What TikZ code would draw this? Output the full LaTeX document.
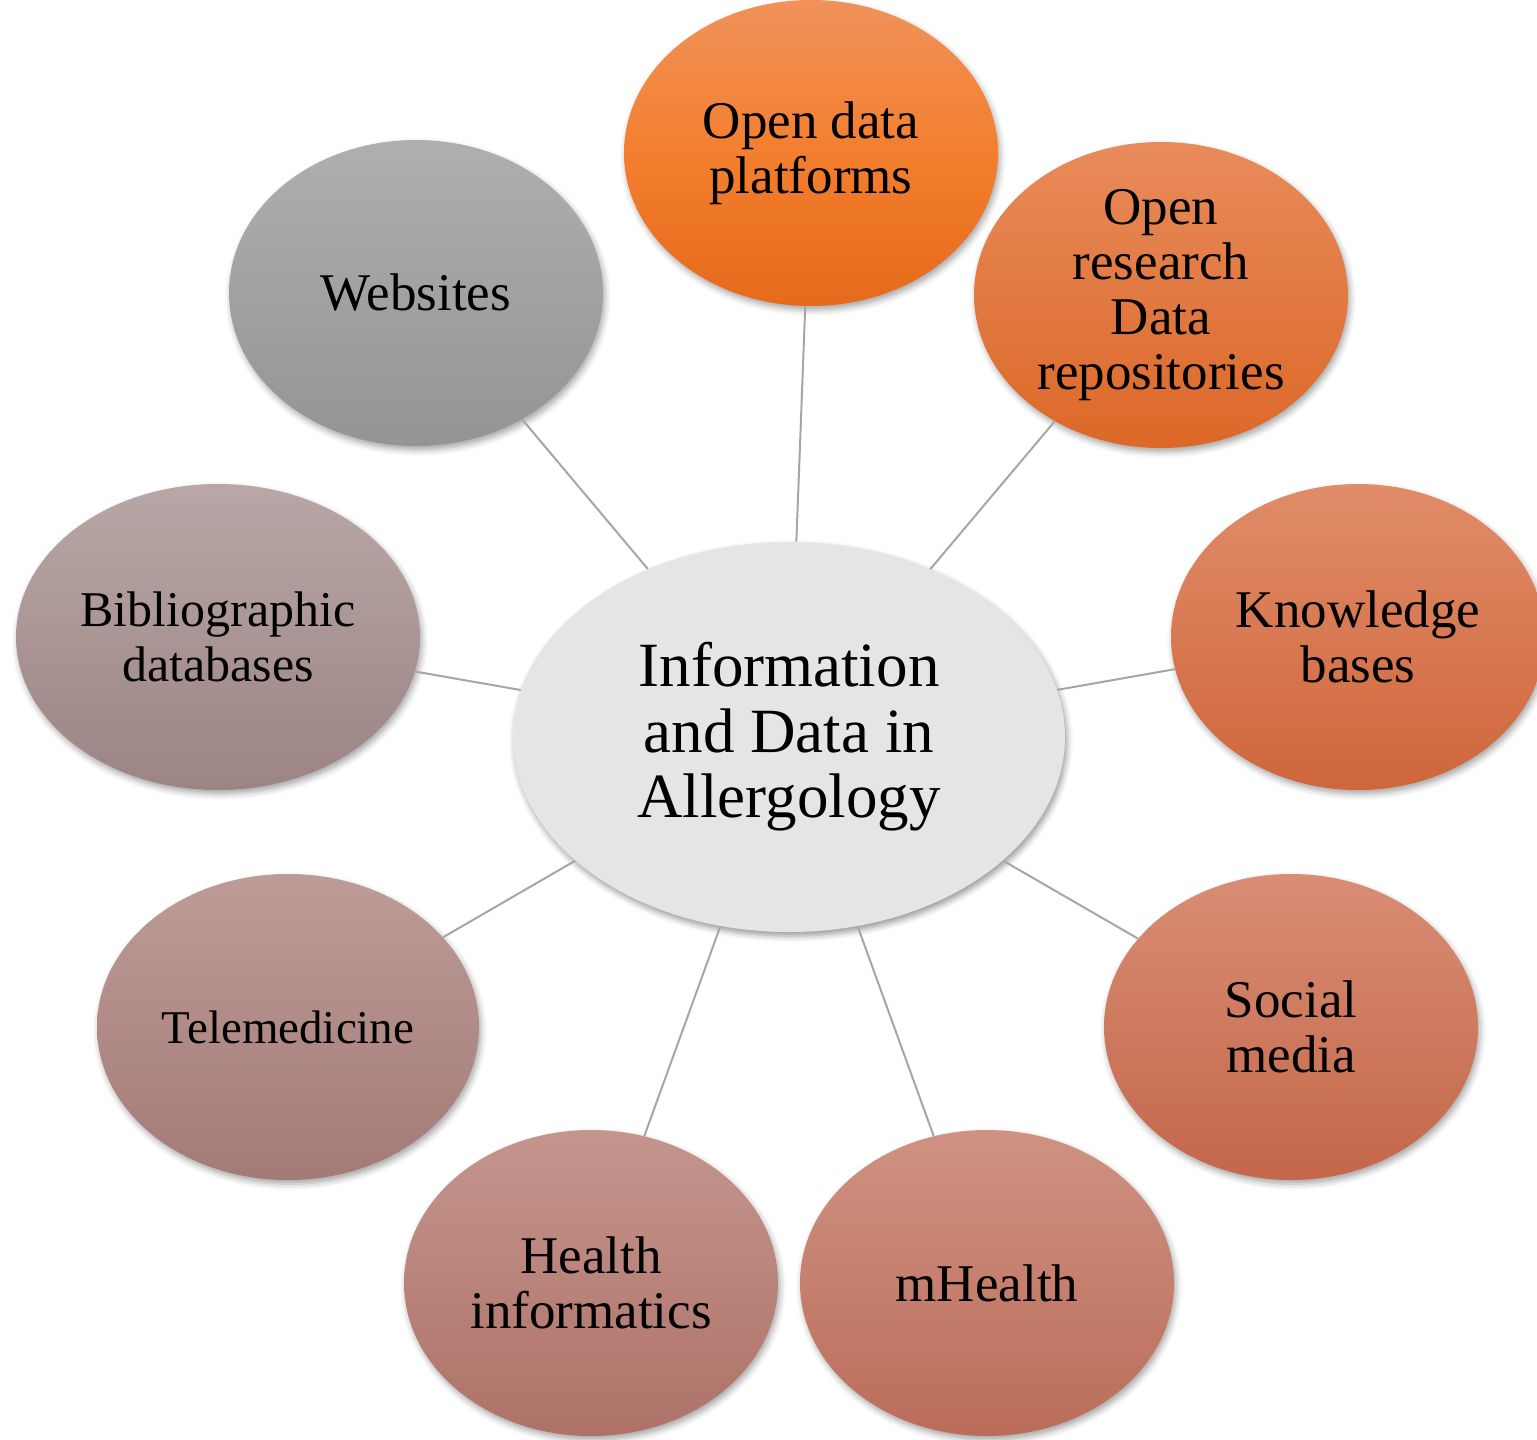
\documentclass[tikz,border=0pt]{standalone}
\usepackage{fontspec}
\setmainfont{Liberation Serif}
\usetikzlibrary{shapes.geometric,shadows.blur}

\definecolor{hubgray}{RGB}{229,229,229}
\definecolor{linkgray}{RGB}{166,166,166}
\definecolor{odtop}{RGB}{240,146,90}
\definecolor{odmid}{RGB}{243,127,46}
\definecolor{odbot}{RGB}{229,106,27}
\definecolor{ortop}{RGB}{232,139,91}
\definecolor{orbot}{RGB}{220,104,40}
\definecolor{kbtop}{RGB}{224,140,104}
\definecolor{kbbot}{RGB}{207,102,60}
\definecolor{smtop}{RGB}{216,141,116}
\definecolor{smbot}{RGB}{196,103,74}
\definecolor{mhtop}{RGB}{207,146,130}
\definecolor{mhbot}{RGB}{187,109,90}
\definecolor{hitop}{RGB}{196,149,141}
\definecolor{hibot}{RGB}{174,114,104}
\definecolor{tmtop}{RGB}{189,156,152}
\definecolor{tmbot}{RGB}{164,122,117}
\definecolor{bdtop}{RGB}{184,167,166}
\definecolor{bdbot}{RGB}{156,132,131}
\definecolor{wstop}{RGB}{175,175,175}
\definecolor{wsbot}{RGB}{148,148,148}

\begin{document}
\begin{tikzpicture}[x=0.5pt,y=-0.5pt,
    bubble/.style={shape=ellipse,inner sep=0pt,align=center,
        minimum width=187pt,minimum height=153pt,
        font=\fontsize{26.5}{27.5}\selectfont,
        blur shadow={shadow xshift=1pt,shadow yshift=-2pt,shadow blur radius=3pt,shadow opacity=35}},
    hub/.style={shape=ellipse,inner sep=0pt,align=center,fill=hubgray,
        minimum width=276pt,minimum height=195pt,
        font=\fontsize{31.5}{32.75}\selectfont,
        blur shadow={shadow xshift=1pt,shadow yshift=-2pt,shadow blur radius=3pt,shadow opacity=40}},
    link/.style={draw=linkgray,line width=1pt}]
\useasboundingbox (0,0) rectangle (1537,1440);

% centre
\node[hub] (info) at (789,737) {Information\\and Data in\\Allergology};

% ring of sources
\node[bubble,top color=odtop,bottom color=odbot,middle color=odmid] (opendata) at (811,153) {Open data\\platforms};
\node[bubble,top color=ortop,bottom color=orbot] (openres) at (1161,295) {Open\\research\\Data\\repositories};
\node[bubble,top color=kbtop,bottom color=kbbot] (knowbase) at (1358,637) {Knowledge\\bases};
\node[bubble,top color=smtop,bottom color=smbot] (social) at (1291,1027) {Social\\media};
\node[bubble,top color=mhtop,bottom color=mhbot] (mhealth) at (987,1283) {mHealth};
\node[bubble,top color=hitop,bottom color=hibot] (healthinf) at (591,1283) {Health\\informatics};
\node[bubble,top color=tmtop,bottom color=tmbot,minimum width=191pt,
      font=\fontsize{23.5}{27.5}\selectfont] (telemed) at (288,1027) {Telemedicine};
\node[bubble,top color=bdtop,bottom color=bdbot,minimum width=202pt,
      font=\fontsize{25}{27.5}\selectfont] (biblio) at (218,637) {Bibliographic\\databases};
\node[bubble,top color=wstop,bottom color=wsbot] (websites) at (416,293) {Websites};

\path [link] (info) edge (opendata);
\path [link] (info) edge (openres);
\path [link] (info) edge (knowbase);
\path [link] (info) edge (social);
\path [link] (info) edge (mhealth);
\path [link] (info) edge (healthinf);
\path [link] (info) edge (telemed);
\path [link] (info) edge (biblio);
\path [link] (info) edge (websites);
\end{tikzpicture}
\end{document}
